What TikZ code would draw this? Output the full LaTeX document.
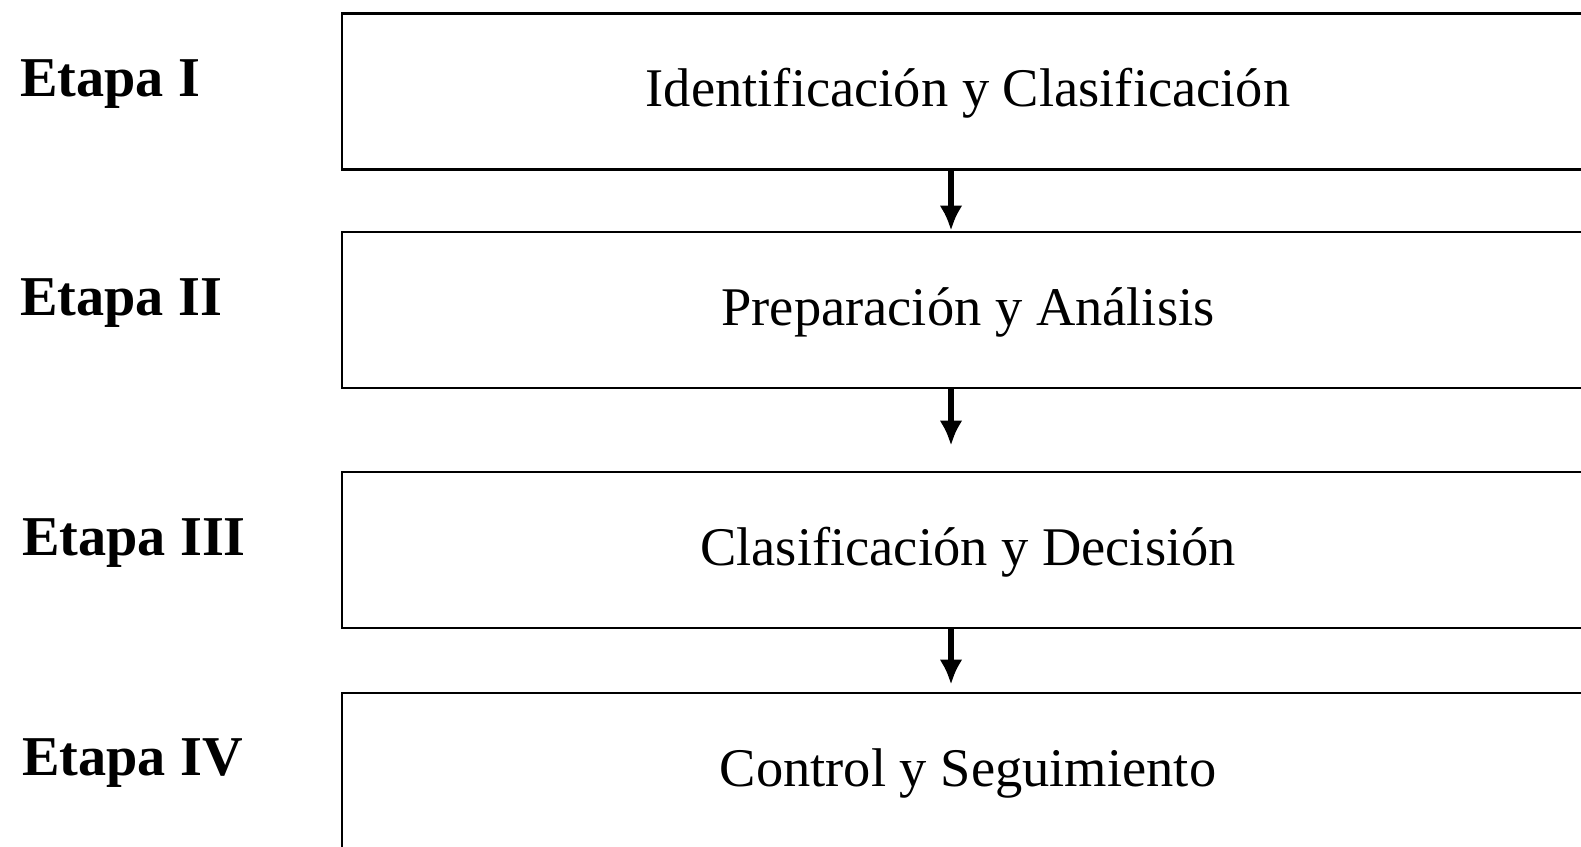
\documentclass[tikz,border=0pt]{standalone}
\usepackage{fontspec}
\setmainfont{Liberation Serif}
\usetikzlibrary{arrows.meta}
\begin{document}
\begin{tikzpicture}[>={Latex[length=5mm,width=4.6mm]},
        etapa/.style={anchor=base west,inner sep=0pt,font=\fontsize{32}{38}\selectfont\bfseries},
        caja/.style={draw,line width=1.6pt,minimum width=25.04cm,minimum height=3.12cm,inner sep=0pt,text height=0.84cm,font=\fontsize{31}{37}\selectfont},
        flecha/.style={->,line width=3pt}]
        \useasboundingbox (0,0) rectangle (31.62,16.92);
        % cajas
        \node[caja] (ident) at (19.36,15.09){Identificación y Clasificación};
        \node[caja] (prep) at (19.36,10.72){Preparación y Análisis};
        \node[caja] (decis) at (19.36,5.92){Clasificación y Decisión};
        \node[caja] (contr) at (19.36,1.5){Control y Seguimiento};
        % etapas
        \node[etapa] (e1) at (0.4,14.98){Etapa I};
        \node[etapa] (e2) at (0.4,10.6){Etapa II};
        \node[etapa] (e3) at (0.44,5.8){Etapa III};
        \node[etapa] (e4) at (0.44,1.42){Etapa IV};
        % flechas
        \coordinate (eje) at (19.02,0);
        \draw[flecha] (ident.south -| eje)--(prep.north -| eje);
        \draw[flecha,shorten >=0.5cm] (prep.south -| eje)--(decis.north -| eje);
        \draw[flecha,shorten >=0.14cm] (decis.south -| eje)--(contr.north -| eje);
\end{tikzpicture}
\end{document}
